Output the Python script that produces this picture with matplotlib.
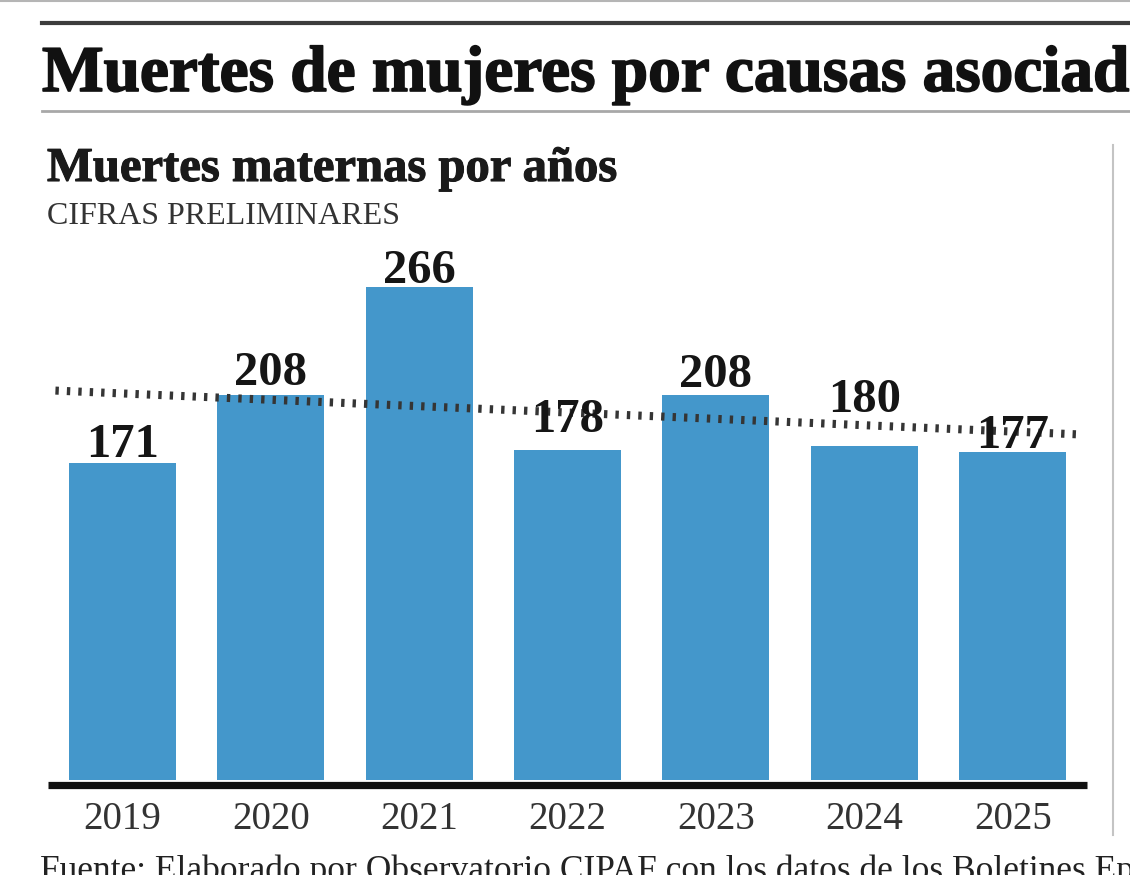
import matplotlib.pyplot as plt
import matplotlib.patheffects as pe
import matplotlib.transforms as mtransforms
import numpy as np

years = ["2019", "2020", "2021", "2022", "2023", "2024", "2025"]
deaths = [171, 208, 266, 178, 208, 180, 177]
# hand-placed label gaps above each bar (pixels), as in the newspaper layout
label_gap_px = [6, 10, 4, 18, 8, 34, 4]

title = "Muertes de mujeres por causas asociadas a la maternidad"
subtitle = "Muertes maternas por años"
note = "CIFRAS PRELIMINARES"
source = "Fuente: Elaborado por Observatorio CIPAF con los datos de los Boletines Epidemiológicos"

BAR_COLOR = "#4497CB"
SERIF = "Liberation Serif"
W, H = 1130, 875


def fx(px):
    return px / W


def fy(py):
    return 1 - py / H


heavy = [pe.withStroke(linewidth=1.2, foreground="#111111")]

fig = plt.figure(figsize=(W / 100, H / 100), dpi=100)
fig.patch.set_facecolor("white")

# rules of the page layout
fig.add_artist(plt.Line2D([0, 1], [fy(1), fy(1)], color="#b5b5b5", lw=1.5))
fig.add_artist(plt.Line2D([fx(42), 1], [fy(23), fy(23)], color="#3c3c3c", lw=3))
fig.add_artist(plt.Line2D([fx(42), 1], [fy(111), fy(111)], color="#a8a8a8", lw=2))
fig.add_artist(plt.Line2D([fx(1113), fx(1113)], [fy(145), fy(835)], color="#c4c4c4", lw=1.5))

fig.text(fx(42), fy(91), title, family=SERIF, fontweight="bold", fontsize=47,
         color="#111111", va="baseline", ha="left", path_effects=heavy)
fig.text(fx(47), fy(181), subtitle, family=SERIF, fontweight="bold", fontsize=35,
         color="#1a1a1a", va="baseline", ha="left",
         path_effects=[pe.withStroke(linewidth=0.8, foreground="#1a1a1a")])
fig.text(fx(47), fy(224), note, family=SERIF, fontsize=23,
         color="#333333", va="baseline", ha="left")
fig.text(fx(40), fy(880), source, family=SERIF, fontsize=25.5,
         color="#222222", va="baseline", ha="left")

ax = fig.add_axes([fx(48), 1 - 780 / H, fx(1087) - fx(48), (780 - 224) / H])
x = np.arange(len(years))
ax.bar(x, deaths, width=0.72, color=BAR_COLOR, zorder=2)
ax.set_xlim(-0.5, len(years) - 0.5)
ax.set_ylim(0, 300)

# thick black baseline
base_tr = mtransforms.offset_copy(ax.get_yaxis_transform(), fig=fig, y=-4.5, units="dots")
ax.plot([0, 1], [0, 0], transform=base_tr, color="#111111", lw=5.2,
        solid_capstyle="butt", zorder=4, clip_on=False)

# linear trend line
slope, intercept = np.polyfit(x, deaths, 1)
tx = np.array([-0.45, len(years) - 0.53])
ax.plot(tx, slope * tx + intercept, color="#353535", lw=5.8,
        dashes=(0.42, 1.0), dash_capstyle="butt", zorder=3, clip_on=False)

for xi, v, gap in zip(x, deaths, label_gap_px):
    ax.annotate(str(v), (xi, v), xytext=(0, gap * 0.72), textcoords="offset points",
                ha="center", va="baseline", family=SERIF, fontweight="bold",
                fontsize=35, color="#151515", zorder=5)

ax.set_xticks(x)
ax.set_xticklabels(years, family=SERIF, fontsize=28, color="#333333")
ax.tick_params(axis="x", length=0, pad=15)
ax.set_yticks([])
for s in ax.spines.values():
    s.set_visible(False)
ax.patch.set_alpha(0)

fig.savefig("out.png", dpi=100)
